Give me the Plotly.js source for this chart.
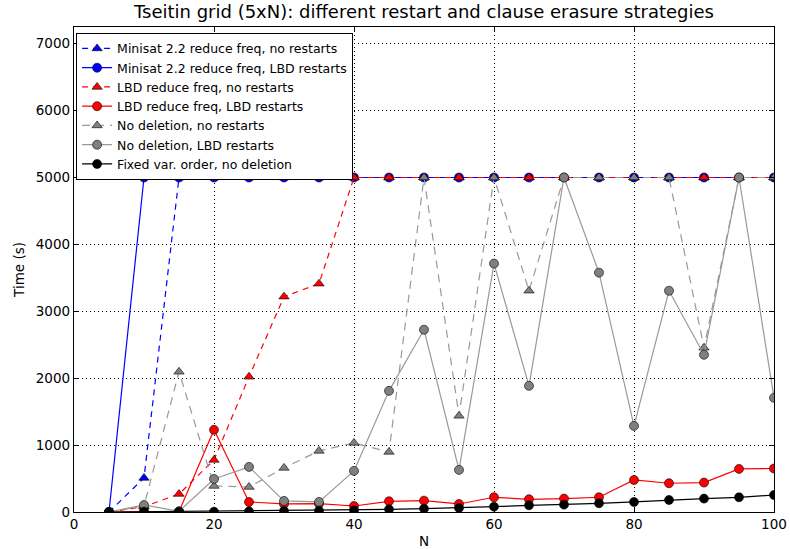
<!DOCTYPE html>
<html>
<head>
<meta charset="utf-8">
<script src="https://cdn.plot.ly/plotly-3.0.1.min.js"></script>
<style>html,body{margin:0;padding:0;background:#fff;}#chart{width:790px;height:549px;}</style>
</head>
<body>
<div id="chart"></div>
<script>
const N = [5,10,15,20,25,30,35,40,45,50,55,60,65,70,75,80,85,90,95,100];

const minisatNoRestarts = [0,509,5000,5000,5000,5000,5000,5000,5000,5000,5000,5000,5000,5000,5000,5000,5000,5000,5000,5000];
const minisatLBDRestarts = [0,5000,5000,5000,5000,5000,5000,5000,5000,5000,5000,5000,5000,5000,5000,5000,5000,5000,5000,5000];
const lbdNoRestarts = [0,80,269,778,2021,3219,3413,5000,5000,5000,5000,5000,5000,5000,5000,5000,5000,5000,5000,5000];
const lbdLBDRestarts = [0,5,5,1228,150,120,125,90,160,170,120,220,190,200,220,479,430,440,644,650];
const noDelNoRestarts = [0,90,2096,389,374,659,913,1033,898,5000,1437,5000,3308,5000,5000,5000,5000,2455,5000,5000];
const noDelLBDRestarts = [0,105,10,494,674,165,150,614,1811,2725,629,3713,1886,5000,3578,1287,3308,2350,5000,1706];
const fixedOrder = [0,5,5,5,10,15,20,25,40,50,60,80,100,110,130,150,180,200,220,254];

const names = [
  "Minisat 2.2 reduce freq, no restarts",
  "Minisat 2.2 reduce freq, LBD restarts",
  "LBD reduce freq, no restarts",
  "LBD reduce freq, LBD restarts",
  "No deletion, no restarts",
  "No deletion, LBD restarts",
  "Fixed var. order, no deletion"
];

function tr(y, name, color, lineColor, dash, symbol) {
  return {
    x: N, y: y, name: name, type: 'scatter', mode: 'lines+markers',
    line: {color: lineColor, width: 1.2, dash: dash},
    marker: {color: color, symbol: symbol, size: 9, line: {color: '#000', width: 0.6}}
  };
}

const data = [
  tr(minisatNoRestarts, names[0], '#0000ff', '#0000ff', '6px,5px', 'triangle-up'),
  tr(minisatLBDRestarts, names[1], '#0000ff', '#0000ff', 'solid', 'circle'),
  tr(lbdNoRestarts, names[2], '#ff0000', '#ff0000', '6px,5px', 'triangle-up'),
  tr(lbdLBDRestarts, names[3], '#ff0000', '#ff0000', 'solid', 'circle'),
  tr(noDelNoRestarts, names[4], '#808080', '#999999', '8px,6px', 'triangle-up'),
  tr(noDelLBDRestarts, names[5], '#808080', '#999999', 'solid', 'circle'),
  tr(fixedOrder, names[6], '#000000', '#000000', 'solid', 'circle')
];

const font = {family: 'DejaVu Sans', size: 12, color: '#000'};

const layout = {
  width: 790, height: 549,
  margin: {l: 74, r: 16, t: 27, b: 37},
  paper_bgcolor: '#fff', plot_bgcolor: '#fff',
  font: font,
  showlegend: true,
  title: {text: 'Tseitin grid (5xN): different restart and clause erasure strategies',
          font: {family: 'DejaVu Sans', size: 18, color: '#000'}, xref: 'paper', x: 0.5, xanchor: 'center', y: 0.99, yanchor: 'top'},
  xaxis: {
    range: [0, 100], tickvals: [0,20,40,60,80,100], ticktext: ['0','20','40','60','80','100'],
    showgrid: true, gridcolor: '#000', griddash: '1px,3px', gridwidth: 1,
    zeroline: false, showline: true, linecolor: '#000', linewidth: 1.2, mirror: 'ticks',
    ticks: 'inside', ticklen: 5, tickcolor: '#000',
    tickfont: {family: 'DejaVu Sans', size: 13.5, color: '#000'},
    title: {text: 'N', font: {family: 'DejaVu Sans', size: 13.5, color: '#000'}, standoff: 6}
  },
  yaxis: {
    range: [0, 7250], tickvals: [0,1000,2000,3000,4000,5000,6000,7000],
    showgrid: true, gridcolor: '#000', griddash: '1px,3px', gridwidth: 1,
    zeroline: false, showline: true, linecolor: '#000', linewidth: 1.2, mirror: 'ticks',
    ticks: 'inside', ticklen: 5, tickcolor: '#000',
    tickfont: {family: 'DejaVu Sans', size: 13.5, color: '#000'},
    title: {text: 'Time (s)', font: {family: 'DejaVu Sans', size: 13.5, color: '#000'}, standoff: 8}
  },
  legend: {
    x: 0.003, y: 0.988, xanchor: 'left', yanchor: 'top',
    bgcolor: '#fff', bordercolor: '#000', borderwidth: 1,
    font: {family: 'DejaVu Sans', size: 12.5, color: '#000'},
    tracegroupgap: 0, itemwidth: 30
  }
};

Plotly.newPlot('chart', data, layout, {displayModeBar: false, staticPlot: true});
</script>
</body>
</html>
